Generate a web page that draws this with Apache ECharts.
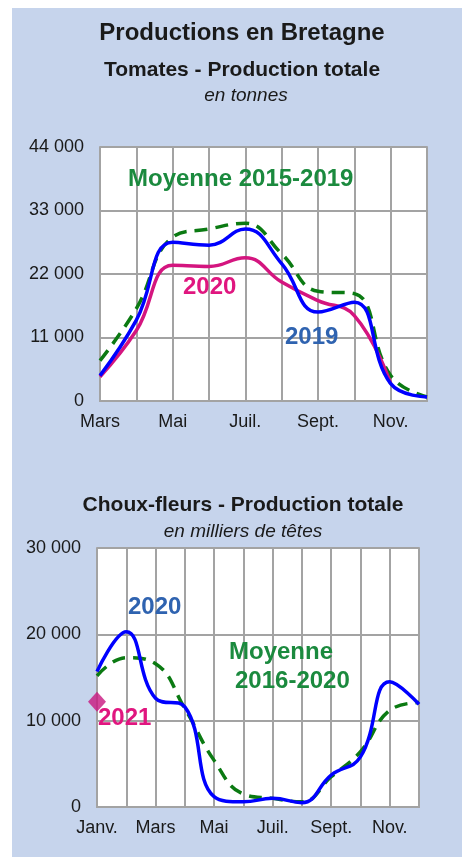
<!DOCTYPE html>
<html><head><meta charset="utf-8">
<script src="https://cdn.jsdelivr.net/npm/echarts@6/dist/echarts.min.js"></script>
<style>html,body{margin:0;padding:0;background:#fff}#c{width:462px;height:857px}</style>
</head><body><div id="c"></div>
<script>
const tomMonths = ['Mars','Avr.','Mai','Juin','Juil.','Août','Sept.','Oct.','Nov.','Déc.'];
const tom2019 = [4400, 14000, 27500, 27000, 29800, 23800, 15400, 17100, 3000, 700];
const tom2020 = [4200, 12200, 23500, 23300, 24800, 20600, 17400, 14800, 3000, null];
const tomMoy = [7000, 16000, 28400, 29800, 30800, 25500, 19000, 18600, 4400, 700];
const tomTicks = [0, 11000, 22000, 33000, 44000];

const chouMonths = ['Janv.','Févr.','Mars','Avr.','Mai','Juin','Juil.','Août','Sept.','Oct.','Nov.','Déc.'];
const chou2020 = [15700, 20300, 12600, 11600, 1200, 600, 1000, 500, 3700, 5800, 14500, 11900];
const chouMoy = [15200, 17300, 16600, 11400, 5400, 1500, 1000, 600, 3500, 6400, 11200, 12100];
const chou2021 = [12200, null, null, null, null, null, null, null, null, null, null, null];
const chouTicks = [0, 10000, 20000, 30000];

const fmt = v => String(v).replace(/\B(?=(\d{3})+(?!\d))/g, ' ');
const BG = '#c6d4ec';
const GRID = '#a3a3a3';
const FONT = '"Liberation Sans", Arial, sans-serif';
const BLUE = '#0000ff', MAG = '#d4157f', GREEN = '#0b7a12';

const chart = echarts.init(document.getElementById('c'));
function xAx(idx, data) {
  return {
    type: 'category', gridIndex: idx, data: data, boundaryGap: false,
    axisLine: {show: true, lineStyle: {color: GRID, width: 2}},
    axisTick: {show: false},
    splitLine: {show: true, interval: 0, lineStyle: {color: GRID, width: 2}},
    axisLabel: {interval: 1, color: '#1a1a1a', fontSize: 18, fontFamily: FONT, margin: 12}
  };
}
function yAx(idx, ticks) {
  return {
    type: 'value', gridIndex: idx, min: ticks[0], max: ticks[ticks.length-1],
    interval: ticks[1]-ticks[0],
    axisLine: {show: true, lineStyle: {color: GRID, width: 2}},
    axisTick: {show: false},
    splitLine: {show: true, lineStyle: {color: GRID, width: 2}},
    axisLabel: {color: '#1a1a1a', fontSize: 18, fontFamily: FONT, margin: 16, formatter: fmt}
  };
}
const txt = (x, y, t, size, color, bold, italic, align) => ({
  type: 'text', x: x, y: y, z: 100,
  style: {text: t, fill: color, fontSize: size, fontFamily: FONT,
    fontWeight: bold ? 'bold' : 'normal', fontStyle: italic ? 'italic' : 'normal',
    align: align || 'center', verticalAlign: 'middle'}
});

chart.setOption({
  animation: false,
  backgroundColor: '#fff',
  graphic: [
    {type: 'rect', shape: {x: 12, y: 8, width: 450, height: 849}, style: {fill: BG}, z: -10},
    txt(242, 33, 'Productions en Bretagne', 24, '#1a1a1a', true),
    txt(242, 70, 'Tomates - Production totale', 21, '#1a1a1a', true),
    txt(246, 96, 'en tonnes', 19, '#1a1a1a', false, true),
    txt(243, 505, 'Choux-fleurs - Production totale', 21, '#1a1a1a', true),
    txt(243, 532, 'en milliers de têtes', 19, '#1a1a1a', false, true),
    txt(128, 179, 'Moyenne 2015-2019', 24, '#1b8a3e', true, false, 'left'),
    txt(183, 287, '2020', 24, '#e0167f', true, false, 'left'),
    txt(285, 337, '2019', 24, '#2f63b0', true, false, 'left'),
    txt(128, 607, '2020', 24, '#2f63b0', true, false, 'left'),
    txt(229, 652, 'Moyenne', 24, '#1b8a3e', true, false, 'left'),
    txt(235, 681, '2016-2020', 24, '#1b8a3e', true, false, 'left'),
    txt(98, 718, '2021', 24, '#e0167f', true, false, 'left')
  ],
  grid: [
    {left: 100, top: 147, width: 327, height: 254, show: true, backgroundColor: '#fff', borderWidth: 0},
    {left: 97, top: 548, width: 322, height: 259, show: true, backgroundColor: '#fff', borderWidth: 0}
  ],
  xAxis: [xAx(0, tomMonths), xAx(1, chouMonths),
    Object.assign(xAx(0, tomMonths), {position: 'top', axisLabel: {show: false}, splitLine: {show: false}}),
    Object.assign(xAx(1, chouMonths), {position: 'top', axisLabel: {show: false}, splitLine: {show: false}})],
  yAxis: [yAx(0, tomTicks), yAx(1, chouTicks),
    Object.assign(yAx(0, tomTicks), {position: 'right', axisLabel: {show: false}, splitLine: {show: false}}),
    Object.assign(yAx(1, chouTicks), {position: 'right', axisLabel: {show: false}, splitLine: {show: false}})],
  series: [
    {type: 'line', xAxisIndex: 0, yAxisIndex: 0, data: tomMoy, smooth: 0.45, showSymbol: false,
      lineStyle: {color: GREEN, width: 3.5, type: [13, 8]}, z: 3},
    {type: 'line', xAxisIndex: 0, yAxisIndex: 0, data: tom2020, smooth: 0.45, showSymbol: false,
      lineStyle: {color: MAG, width: 3.5}, z: 4},
    {type: 'line', xAxisIndex: 0, yAxisIndex: 0, data: tom2019, smooth: 0.45, showSymbol: false,
      lineStyle: {color: BLUE, width: 3.5}, z: 5},
    {type: 'line', xAxisIndex: 1, yAxisIndex: 1, data: chouMoy, smooth: 0.45, showSymbol: false,
      lineStyle: {color: GREEN, width: 3.5, type: [13, 8]}, z: 3},
    {type: 'line', xAxisIndex: 1, yAxisIndex: 1, data: chou2020, smooth: 0.45, showSymbol: false,
      lineStyle: {color: BLUE, width: 3.5}, z: 5},
    {type: 'scatter', xAxisIndex: 1, yAxisIndex: 1, data: chou2021, symbol: 'diamond', symbolSize: [18, 20],
      itemStyle: {color: '#c8177f'}, z: 6}
  ]
});
</script></body></html>
